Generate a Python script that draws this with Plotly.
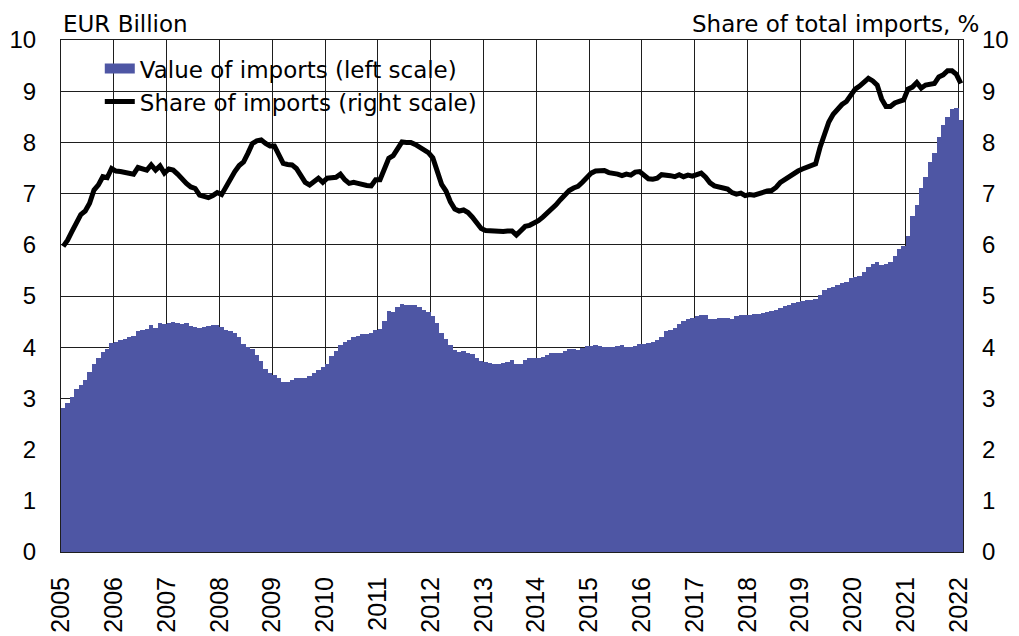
import plotly.graph_objects as go

# Monthly data, Jan 2005 .. Jan 2022
start_year = 2005
import_value = [
    # 2005
    2.81, 2.92, 3.03, 3.18, 3.27, 3.36, 3.52, 3.67, 3.78, 3.91, 3.96, 4.09,
    # 2006
    4.10, 4.14, 4.17, 4.19, 4.22, 4.32, 4.33, 4.35, 4.43, 4.38, 4.47, 4.46,
    # 2007
    4.48, 4.49, 4.47, 4.46, 4.47, 4.42, 4.40, 4.37, 4.39, 4.42, 4.43, 4.43,
    # 2008
    4.40, 4.34, 4.32, 4.27, 4.19, 4.06, 4.01, 3.96, 3.85, 3.73, 3.57, 3.49,
    # 2009
    3.46, 3.40, 3.33, 3.32, 3.36, 3.40, 3.39, 3.39, 3.44, 3.50, 3.56, 3.62,
    # 2010
    3.68, 3.82, 3.92, 4.05, 4.10, 4.15, 4.19, 4.22, 4.26, 4.25, 4.28, 4.34,
    # 2011
    4.36, 4.52, 4.70, 4.68, 4.78, 4.84, 4.83, 4.83, 4.83, 4.78, 4.73, 4.68,
    # 2012
    4.60, 4.47, 4.28, 4.16, 4.05, 3.94, 3.91, 3.93, 3.89, 3.87, 3.79, 3.73,
    # 2013
    3.72, 3.69, 3.67, 3.67, 3.70, 3.72, 3.75, 3.67, 3.68, 3.75, 3.78, 3.78,
    # 2014
    3.79, 3.80, 3.84, 3.88, 3.88, 3.88, 3.93, 3.96, 3.96, 3.94, 3.99, 4.02,
    # 2015
    4.02, 4.05, 4.03, 4.01, 4.01, 4.01, 4.02, 4.04, 4.01, 4.01, 4.03, 4.07,
    # 2016
    4.06, 4.08, 4.10, 4.14, 4.20, 4.31, 4.33, 4.37, 4.45, 4.52, 4.55, 4.58,
    # 2017
    4.61, 4.63, 4.63, 4.56, 4.55, 4.57, 4.58, 4.58, 4.56, 4.60, 4.63, 4.62,
    # 2018
    4.63, 4.64, 4.64, 4.66, 4.69, 4.71, 4.73, 4.77, 4.81, 4.83, 4.87, 4.89,
    # 2019
    4.91, 4.93, 4.93, 4.95, 5.01, 5.12, 5.16, 5.18, 5.22, 5.25, 5.28, 5.35,
    # 2020
    5.37, 5.40, 5.47, 5.57, 5.63, 5.66, 5.61, 5.63, 5.67, 5.79, 5.92, 5.97,
    # 2021
    6.17, 6.56, 6.77, 7.11, 7.33, 7.62, 7.80, 8.11, 8.34, 8.50, 8.65, 8.68,
    # 2022
    8.44,
]

import_share = [
    # 2005
    5.97, 6.09, 6.26, 6.45, 6.59, 6.66, 6.81, 7.07, 7.17, 7.33, 7.31, 7.49,
    # 2006
    7.44, 7.43, 7.41, 7.40, 7.38, 7.51, 7.48, 7.46, 7.56, 7.46, 7.54, 7.40,
    # 2007
    7.48, 7.46, 7.38, 7.28, 7.20, 7.13, 7.10, 6.97, 6.94, 6.92, 6.96, 7.02,
    # 2008
    6.98, 7.13, 7.31, 7.43, 7.55, 7.62, 7.79, 7.98, 8.03, 8.05, 7.98, 7.93,
    # 2009
    7.93, 7.75, 7.59, 7.57, 7.56, 7.49, 7.33, 7.22, 7.17, 7.23, 7.30, 7.22,
    # 2010
    7.30, 7.31, 7.32, 7.38, 7.27, 7.20, 7.22, 7.20, 7.17, 7.16, 7.15, 7.27,
    # 2011
    7.27, 7.48, 7.69, 7.74, 7.88, 8.01, 8.00, 8.00, 7.96, 7.90, 7.85, 7.80,
    # 2012
    7.70, 7.45, 7.18, 7.05, 6.84, 6.70, 6.66, 6.68, 6.63, 6.54, 6.42, 6.32,
    # 2013
    6.28, 6.27, 6.26, 6.26, 6.26, 6.27, 6.27, 6.19, 6.29, 6.36, 6.38, 6.42,
    # 2014
    6.47, 6.54, 6.61, 6.69, 6.78, 6.88, 6.97, 7.06, 7.11, 7.14, 7.22, 7.31,
    # 2015
    7.40, 7.44, 7.44, 7.45, 7.41, 7.40, 7.38, 7.35, 7.38, 7.36, 7.42, 7.43,
    # 2016
    7.36, 7.29, 7.28, 7.30, 7.37, 7.37, 7.35, 7.33, 7.37, 7.33, 7.36, 7.34,
    # 2017
    7.38, 7.40, 7.32, 7.21, 7.15, 7.12, 7.11, 7.09, 7.02, 6.99, 7.01, 6.96,
    # 2018
    6.98, 6.97, 7.00, 7.04, 7.05, 7.06, 7.12, 7.22, 7.28, 7.32, 7.38, 7.44,
    # 2019
    7.48, 7.52, 7.55, 7.58, 7.90, 8.15, 8.40, 8.55, 8.66, 8.74, 8.80, 8.92,
    # 2020
    9.04, 9.10, 9.18, 9.25, 9.20, 9.12, 8.85, 8.70, 8.70, 8.77, 8.80, 8.83,
    # 2021
    9.04, 9.08, 9.17, 9.06, 9.12, 9.13, 9.15, 9.28, 9.32, 9.40, 9.40, 9.33,
    # 2022
    9.15,
]

year_labels = [str(y) for y in range(2005, 2023)]
y_ticks = list(range(0, 11))

n = len(import_value)
month_labels = [f"{start_year + i // 12}-{i % 12 + 1:02d}" for i in range(n)]
x_pos = list(range(n))
year_tick_pos = [12 * k - 0.5 for k in range(len(year_labels))]

FONT = "Liberation Sans, Arial, sans-serif"
TEXT_FONT = "DejaVu Sans, Liberation Sans, sans-serif"
BAR_COLOR = "#4E56A4"
GRID = "#1e1e1e"
BAR_NAME = "Value of imports (left scale)"

fig = go.Figure()
fig.add_trace(go.Bar(
    x=x_pos, y=import_value, customdata=month_labels,
    name=BAR_NAME, legendgroup="bars", showlegend=False,
    marker=dict(color=BAR_COLOR, line=dict(width=0)),
    hovertemplate="%{customdata}: %{y}<extra></extra>",
))
# legend entry drawn as a wide swatch for the bars (no data of its own)
fig.add_trace(go.Scatter(
    x=[None], y=[None], mode="lines", name=BAR_NAME, legendgroup="bars",
    line=dict(color=BAR_COLOR, width=10), hoverinfo="skip",
))
fig.add_trace(go.Scatter(
    x=x_pos, y=import_share, customdata=month_labels, yaxis="y2",
    name="Share of imports (right scale)", mode="lines",
    line=dict(color="black", width=5),
    hovertemplate="%{customdata}: %{y}%<extra></extra>",
))

fig.update_layout(
    width=1011, height=628,
    margin=dict(l=53, r=56, t=32, b=84, autoexpand=False),
    paper_bgcolor="white", plot_bgcolor="white",
    font=dict(family=FONT, size=24, color="black"),
    bargap=0,
    showlegend=True,
    legend=dict(
        x=0.043, y=0.986, xanchor="left", yanchor="top",
        bgcolor="rgba(255,255,255,0)", borderwidth=0,
        font=dict(family=TEXT_FONT, size=23, color="black"),
        tracegroupgap=0,
    ),
    xaxis=dict(
        range=[-0.5, n - 0.5],
        tickmode="array", tickvals=year_tick_pos, ticktext=year_labels,
        tickangle=-90, ticks="", ticklabelstandoff=14,
        tickfont=dict(family=FONT, size=25),
        showgrid=True, gridcolor=GRID, gridwidth=1,
        showline=True, linecolor=GRID, linewidth=1, mirror=True,
        zeroline=False,
    ),
    yaxis=dict(
        range=[0, 10], tickmode="array", tickvals=y_ticks,
        ticks="", ticklabelstandoff=19,
        tickfont=dict(family=FONT, size=24),
        showgrid=True, gridcolor=GRID, gridwidth=1,
        showline=True, linecolor=GRID, linewidth=1, mirror=True,
        zeroline=False,
    ),
    yaxis2=dict(
        range=[0, 10], tickmode="array", tickvals=y_ticks,
        overlaying="y", side="right",
        ticks="", ticklabelstandoff=18,
        tickfont=dict(family=FONT, size=24),
        showgrid=False, showline=False, zeroline=False,
    ),
    annotations=[
        dict(text="EUR Billion", xref="paper", yref="paper", x=0.0, y=1.031,
             xanchor="left", yanchor="middle", showarrow=False,
             font=dict(family=TEXT_FONT, size=23, color="black")),
        dict(text="Share of total imports, %", xref="paper", yref="paper",
             x=1.02, y=1.031, xanchor="right", yanchor="middle", showarrow=False,
             font=dict(family=TEXT_FONT, size=23, color="black")),
    ],
)

fig.write_html("out.html")
